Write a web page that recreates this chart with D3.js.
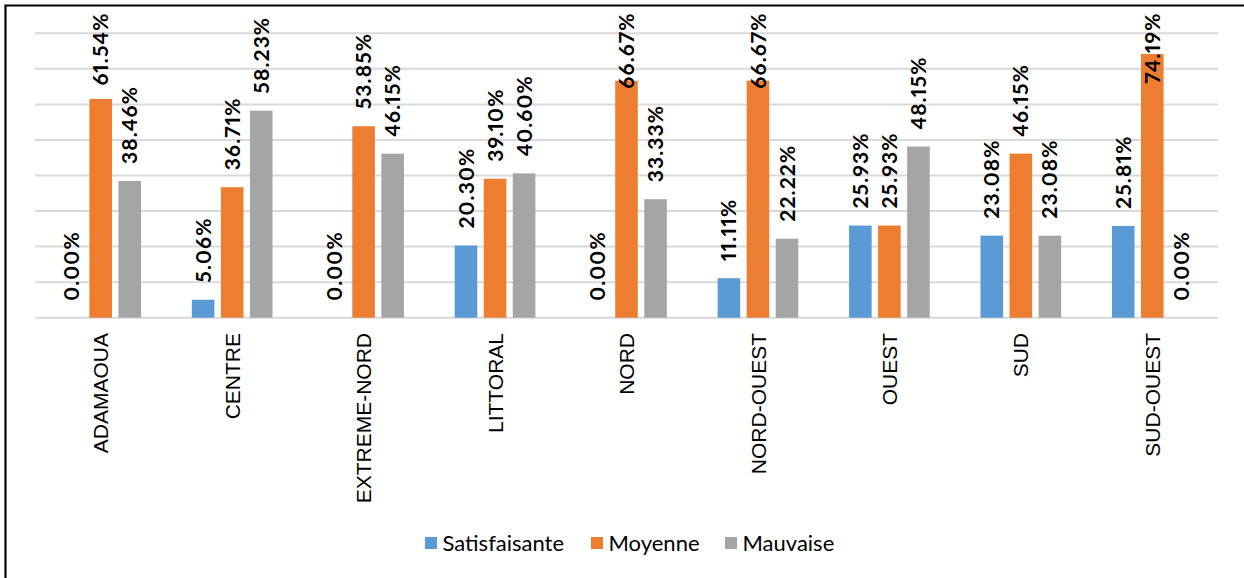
<!DOCTYPE html>
<html>
<head>
<meta charset="utf-8">
<script src="https://cdn.jsdelivr.net/npm/d3@7"></script>
<style>
html,body{margin:0;padding:0;background:#fff;}
svg{display:block;}
.dl{font-variant-numeric: proportional-nums; font-feature-settings: "pnum" 1;}
</style>
</head>
<body>
<svg id="chart" width="1244" height="578"></svg>
<script>
const categories = ["ADAMAOUA","CENTRE","EXTREME-NORD","LITTORAL","NORD","NORD-OUEST","OUEST","SUD","SUD-OUEST"];
const seriesNames = ["Satisfaisante","Moyenne","Mauvaise"];
const satisfaisante = [0.00, 5.06, 0.00, 20.30, 0.00, 11.11, 25.93, 23.08, 25.81];
const moyenne = [61.54, 36.71, 53.85, 39.10, 66.67, 66.67, 25.93, 46.15, 74.19];
const mauvaise = [38.46, 58.23, 46.15, 40.60, 33.33, 22.22, 48.15, 23.08, 0.00];
const yTicks = [0,10,20,30,40,50,60,70,80];
const colors = ["#5B9BD5","#ED7D31","#A5A5A5"];

const seriesValues = [satisfaisante, moyenne, mauvaise];
const svg = d3.select("#chart");
const W = 1244, H = 578;

// frame
svg.append("path").attr("d", `M5.5,${H} V5.5 H${W}`).attr("fill","none").attr("stroke","#000").attr("stroke-width",2.2);

const x0 = d3.scaleBand().domain(categories).range([35,1218]).paddingInner(0).paddingOuter(0);
const x1 = d3.scaleBand().domain(seriesNames).range([0,x0.bandwidth()]).paddingInner(0.222).paddingOuter(0.874);
const y = d3.scaleLinear().domain([0,80]).range([317.7,33.3]);

// gridlines
svg.append("g").selectAll("line").data(yTicks).join("line")
  .attr("x1",35).attr("x2",1218)
  .attr("y1",d=>y(d)).attr("y2",d=>y(d))
  .attr("stroke","#d9d9d9").attr("stroke-width",2);

// bars
const rows = [];
categories.forEach((c,i)=>{
  seriesNames.forEach((s,j)=>{
    rows.push({cat:c, ser:s, j:j, v:seriesValues[j][i]});
  });
});
svg.append("g").selectAll("rect").data(rows.filter(d=>d.v>0)).join("rect")
  .attr("x",d=>x0(d.cat)+x1(d.ser))
  .attr("width",x1.bandwidth())
  .attr("y",d=>y(d.v))
  .attr("height",d=>y(0)-y(d.v))
  .attr("fill",d=>colors[d.j]);

// data labels
const labG = svg.append("g");
rows.forEach(d=>{
  const cx = x0(d.cat)+x1(d.ser)+x1.bandwidth()/2;
  const t = labG.append("text")
    .attr("class","dl")
    .attr("font-family","Lato, 'Open Sans', sans-serif")
    .attr("font-weight","bold")
    .attr("font-size",21)
    .attr("letter-spacing","1.1px")
    .attr("fill","#000")
    .attr("text-anchor","start")
    .attr("dy","0.36em")
    .text(d3.format(".2f")(d.v)+"%");
  const len = t.node().getComputedTextLength();
  let bottom = y(d.v) - 17;
  if (bottom - len < 12.5) bottom = 12.5 + len;
  t.attr("transform",`translate(${cx},${bottom}) rotate(-90)`);
});

// category labels
svg.append("g").selectAll("text").data(categories).join("text")
  .attr("transform",d=>`translate(${x0(d)+x0.bandwidth()/2},333) rotate(-90)`)
  .attr("text-anchor","end")
  .attr("dy","0.36em")
  .attr("font-family","'Liberation Sans', Arial, sans-serif")
  .attr("font-size",21)
  .attr("fill","#000")
  .text(d=>d);

// legend
const legendX = [425, 591, 725];
const lg = svg.append("g");
seriesNames.forEach((s,j)=>{
  lg.append("rect").attr("x",legendX[j]).attr("y",537).attr("width",12).attr("height",12).attr("fill",colors[j]);
  lg.append("text").attr("x",legendX[j]+17.5).attr("y",551)
    .attr("font-family","Lato, 'Open Sans', sans-serif")
    .attr("font-size",22)
    .attr("fill","#000")
    .text(s);
});
</script>
</body>
</html>
